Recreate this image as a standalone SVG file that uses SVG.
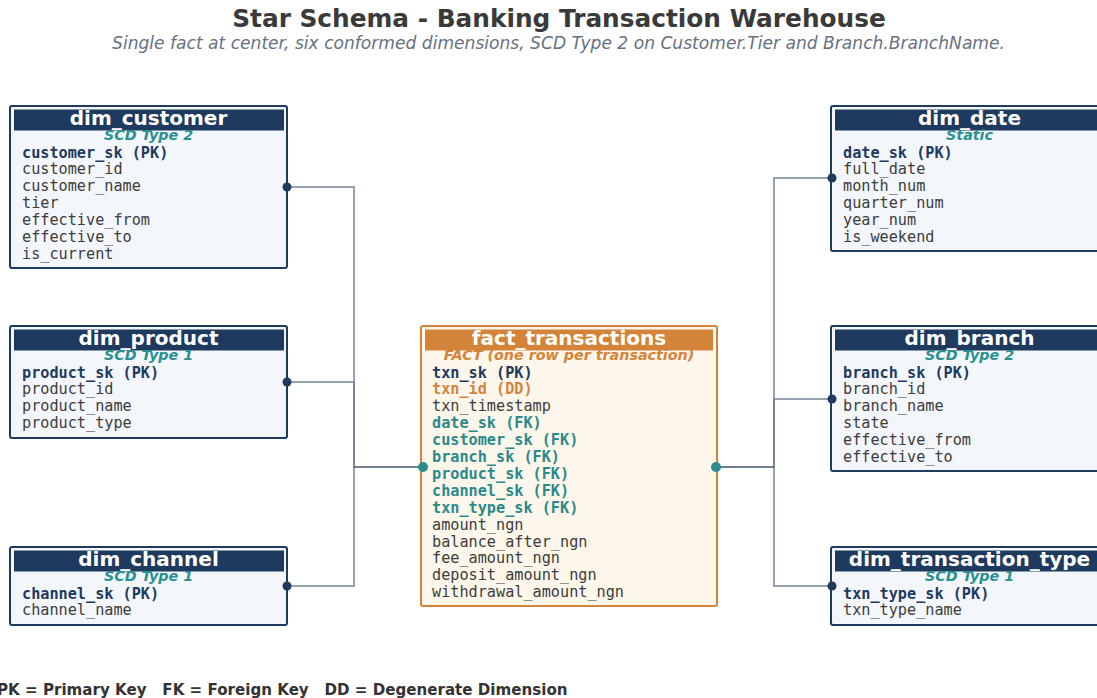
<svg xmlns="http://www.w3.org/2000/svg" width="1097" height="698" viewBox="0 0 1097 698">
  <style>
    .title { font-family: "DejaVu Sans", sans-serif; font-weight: bold; font-size: 24.8px; fill: #3a3a3a; text-anchor: middle; }
    .subtitle { font-family: "DejaVu Sans", sans-serif; font-style: italic; font-size: 17.1px; fill: #65717f; text-anchor: middle; }
    .legend { font-family: "DejaVu Sans", sans-serif; font-weight: bold; font-size: 15.1px; fill: #333333; white-space: pre; }
    .dim-box { fill: #f3f6fb; stroke: #1e3a5f; stroke-width: 2; }
    .dim-head { fill: #1e3a5f; }
    .fact-box { fill: #fdf6ea; stroke: #d4843a; stroke-width: 2; }
    .fact-head { fill: #d4843a; }
    .tname { font-family: "DejaVu Sans", sans-serif; font-weight: bold; font-size: 20px; fill: #ffffff; text-anchor: middle; }
    .tag { font-family: "DejaVu Sans", sans-serif; font-weight: bold; font-style: italic; font-size: 14.3px; fill: #2a9090; text-anchor: middle; }
    .tag-fact { fill: #d4843a; }
    .col { font-family: "DejaVu Sans Mono", monospace; font-size: 15.2px; fill: #3d3d3d; }
    .pk { font-weight: bold; fill: #1e3a5f; }
    .fk { font-weight: bold; fill: #2a8a8a; }
    .dd { font-weight: bold; fill: #d4843a; }
    .link { fill: none; stroke: #6b7b8e; stroke-width: 2; stroke-opacity: 0.7; }
    .dot-dim { fill: #1e3a5f; }
    .dot-fact { fill: #2a8c8c; }
  </style>

  <!-- heading -->
  <text class="title" x="559" y="27">Star Schema - Banking Transaction Warehouse</text>
  <text class="subtitle" x="558.5" y="48.5">Single fact at center, six conformed dimensions, SCD Type 2 on Customer.Tier and Branch.BranchName.</text>

  <!-- connectors: each dimension routed through a shared trunk to the fact table -->
  <g id="connectors">
    <polyline class="link" points="287,187 354,187 354,467 423,467"/>
    <polyline class="link" points="287,382 354,382 354,467 423,467"/>
    <polyline class="link" points="287,586 354,586 354,467 423,467"/>
    <polyline class="link" points="832,178 774,178 774,467 716,467"/>
    <polyline class="link" points="832,399 774,399 774,467 716,467"/>
    <polyline class="link" points="832,586 774,586 774,467 716,467"/>
  </g>

  <g id="dim_customer">
    <rect class="dim-box" x="10" y="106" width="277" height="162" rx="2"/>
    <rect class="dim-head" x="14" y="109.5" width="270" height="21"/>
    <text class="tname" x="148.5" y="124.5">dim_customer</text>
    <text class="tag" x="148.5" y="140">SCD Type 2</text>
    <text class="col pk" x="22" y="157.5">customer_sk (PK)</text>
    <text class="col" x="22" y="174.4">customer_id</text>
    <text class="col" x="22" y="191.3">customer_name</text>
    <text class="col" x="22" y="208.2">tier</text>
    <text class="col" x="22" y="225.1">effective_from</text>
    <text class="col" x="22" y="242">effective_to</text>
    <text class="col" x="22" y="258.9">is_current</text>
    <circle class="dot-dim" cx="287" cy="187" r="4.5"/>
  </g>

  <g id="dim_product">
    <rect class="dim-box" x="10" y="326" width="277" height="112" rx="2"/>
    <rect class="dim-head" x="14" y="329.5" width="270" height="21"/>
    <text class="tname" x="148.5" y="344.5">dim_product</text>
    <text class="tag" x="148.5" y="360">SCD Type 1</text>
    <text class="col pk" x="22" y="377.5">product_sk (PK)</text>
    <text class="col" x="22" y="394.4">product_id</text>
    <text class="col" x="22" y="411.3">product_name</text>
    <text class="col" x="22" y="428.2">product_type</text>
    <circle class="dot-dim" cx="287" cy="382" r="4.5"/>
  </g>

  <g id="dim_channel">
    <rect class="dim-box" x="10" y="547" width="277" height="78" rx="2"/>
    <rect class="dim-head" x="14" y="550.5" width="270" height="21"/>
    <text class="tname" x="148.5" y="565.5">dim_channel</text>
    <text class="tag" x="148.5" y="581">SCD Type 1</text>
    <text class="col pk" x="22" y="598.5">channel_sk (PK)</text>
    <text class="col" x="22" y="615.4">channel_name</text>
    <circle class="dot-dim" cx="287" cy="586" r="4.5"/>
  </g>

  <g id="dim_date">
    <rect class="dim-box" x="831" y="106" width="277" height="145" rx="2"/>
    <rect class="dim-head" x="835" y="109.5" width="270" height="21"/>
    <text class="tname" x="969.5" y="124.5">dim_date</text>
    <text class="tag" x="969.5" y="140">Static</text>
    <text class="col pk" x="843" y="157.5">date_sk (PK)</text>
    <text class="col" x="843" y="174.4">full_date</text>
    <text class="col" x="843" y="191.3">month_num</text>
    <text class="col" x="843" y="208.2">quarter_num</text>
    <text class="col" x="843" y="225.1">year_num</text>
    <text class="col" x="843" y="242">is_weekend</text>
    <circle class="dot-dim" cx="832" cy="178" r="4.5"/>
  </g>

  <g id="dim_branch">
    <rect class="dim-box" x="831" y="326" width="277" height="145" rx="2"/>
    <rect class="dim-head" x="835" y="329.5" width="270" height="21"/>
    <text class="tname" x="969.5" y="344.5">dim_branch</text>
    <text class="tag" x="969.5" y="360">SCD Type 2</text>
    <text class="col pk" x="843" y="377.5">branch_sk (PK)</text>
    <text class="col" x="843" y="394.4">branch_id</text>
    <text class="col" x="843" y="411.3">branch_name</text>
    <text class="col" x="843" y="428.2">state</text>
    <text class="col" x="843" y="445.1">effective_from</text>
    <text class="col" x="843" y="462">effective_to</text>
    <circle class="dot-dim" cx="832" cy="399" r="4.5"/>
  </g>

  <g id="dim_transaction_type">
    <rect class="dim-box" x="831" y="547" width="277" height="78" rx="2"/>
    <rect class="dim-head" x="835" y="550.5" width="270" height="21"/>
    <text class="tname" x="969.5" y="565.5">dim_transaction_type</text>
    <text class="tag" x="969.5" y="581">SCD Type 1</text>
    <text class="col pk" x="843" y="598.5">txn_type_sk (PK)</text>
    <text class="col" x="843" y="615.4">txn_type_name</text>
    <circle class="dot-dim" cx="832" cy="586" r="4.5"/>
  </g>

  <g id="fact_transactions">
    <rect class="fact-box" x="421" y="326" width="296" height="280" rx="2"/>
    <rect class="fact-head" x="425" y="329.5" width="288" height="21"/>
    <text class="tname" x="569" y="344.5">fact_transactions</text>
    <text class="tag tag-fact" x="569" y="360">FACT (one row per transaction)</text>
    <text class="col pk" x="432" y="377.5">txn_sk (PK)</text>
    <text class="col dd" x="432" y="394.4">txn_id (DD)</text>
    <text class="col" x="432" y="411.3">txn_timestamp</text>
    <text class="col fk" x="432" y="428.2">date_sk (FK)</text>
    <text class="col fk" x="432" y="445.1">customer_sk (FK)</text>
    <text class="col fk" x="432" y="462">branch_sk (FK)</text>
    <text class="col fk" x="432" y="478.9">product_sk (FK)</text>
    <text class="col fk" x="432" y="495.8">channel_sk (FK)</text>
    <text class="col fk" x="432" y="512.7">txn_type_sk (FK)</text>
    <text class="col" x="432" y="529.6">amount_ngn</text>
    <text class="col" x="432" y="546.5">balance_after_ngn</text>
    <text class="col" x="432" y="563.4">fee_amount_ngn</text>
    <text class="col" x="432" y="580.3">deposit_amount_ngn</text>
    <text class="col" x="432" y="597.2">withdrawal_amount_ngn</text>
    <circle class="dot-fact" cx="423" cy="467" r="5"/>
    <circle class="dot-fact" cx="716" cy="467" r="5"/>
  </g>

  <!-- key legend -->
  <text class="legend" x="-3" y="695" xml:space="preserve">PK = Primary Key   FK = Foreign Key   DD = Degenerate Dimension</text>
</svg>
